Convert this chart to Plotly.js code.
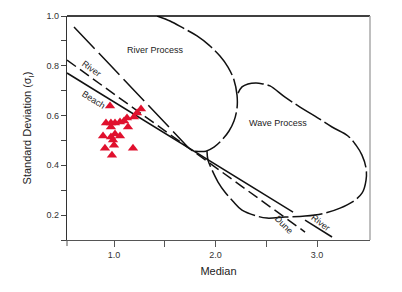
<!DOCTYPE html>
<html><head><meta charset="utf-8">
<script src="https://cdn.plot.ly/plotly-3.0.1.min.js"></script>
<style>html,body{margin:0;padding:0;background:#fff}#chart{width:402px;height:292px}</style>
</head><body><div id="chart"></div>
<script>
// Sample points (median, standard deviation)
const sampleMedian = [0.961,1.266,1.227,1.197,1.128,0.921,0.970,1.010,1.059,1.099,0.970,1.138,0.892,0.970,1.010,1.059,0.990,1.000,0.911,1.187,0.980];
const sampleSD     = [0.638,0.626,0.610,0.594,0.590,0.570,0.570,0.570,0.574,0.578,0.554,0.554,0.518,0.514,0.526,0.518,0.502,0.481,0.469,0.469,0.441];

// Discriminant lines
const lineAX = [0.606, 1.729];
const lineAY = [0.956, 0.473];
const lineBX = [0.537, 2.882];
const lineBY = [0.823, 0.132];
const lineCX = [0.537, 2.764, null, 2.882, 3.148];
const lineCY = [0.771, 0.212, null, 0.180, 0.112];

// River process field boundary
const riverX = [1.424,1.552,1.680,1.818,1.936,2.044,2.123,2.182,2.212,2.212,2.182,2.133,2.064,1.985,1.906,1.798];
const riverY = [1.000,0.980,0.952,0.920,0.883,0.839,0.795,0.743,0.682,0.630,0.578,0.538,0.502,0.473,0.457,0.457];

// Wave process field boundary
const waveX = [2.222,2.261,2.320,2.399,2.468,2.537,2.685,2.833,2.980,3.148,3.305,3.384,3.443,3.483,3.483,3.443,3.345,3.227,3.079,2.882,2.685,2.507,2.409,2.261,2.172,2.094,2.025,1.966,1.926,1.916];
const waveY = [0.690,0.715,0.727,0.731,0.727,0.719,0.674,0.634,0.598,0.554,0.518,0.481,0.441,0.389,0.341,0.288,0.252,0.228,0.208,0.196,0.192,0.188,0.196,0.220,0.256,0.292,0.333,0.381,0.421,0.457];

// Labels
const labelText  = ['River Process','Wave Process','River','Beach','Dune','River'];
const labelX     = [1.404, 2.616, 0.783, 0.803, 2.675, 3.039];
const labelY     = [0.864, 0.572, 0.788, 0.664, 0.160, 0.168];
const labelAngle = [0, 0, 36, 32, 45, 37];

const xTickVals = [1, 2, 3];
const xTickText = ['1.0', '2.0', '3.0'];
const yTickVals = [0.2, 0.4, 0.6, 0.8, 1.0];
const yTickText = ['0.2', '0.4', '0.6', '0.8', '1.0'];

const blk = '#111';
const traces = [
  {x: lineAX, y: lineAY, mode: 'lines', line: {color: blk, width: 1.5, dash: '30px,6px'}, hoverinfo: 'skip'},
  {x: lineBX, y: lineBY, mode: 'lines', line: {color: blk, width: 1.5, dash: '11px,5px'}, hoverinfo: 'skip'},
  {x: lineCX, y: lineCY, mode: 'lines', line: {color: blk, width: 1.5}, connectgaps: false, hoverinfo: 'skip'},
  {x: riverX, y: riverY, mode: 'lines', line: {color: blk, width: 1.5, dash: '30px,4px', shape: 'spline'}, hoverinfo: 'skip'},
  {x: waveX, y: waveY, mode: 'lines', line: {color: blk, width: 1.5, dash: '30px,4px', shape: 'spline'}, hoverinfo: 'skip'},
  {x: sampleMedian, y: sampleSD, mode: 'markers', marker: {symbol: 'triangle-up', size: 9, color: '#e0102d', line: {width: 0}}}
];

const annotations = labelText.map((t, i) => ({
  x: labelX[i], y: labelY[i], xref: 'x', yref: 'y', text: t, showarrow: false,
  textangle: labelAngle[i], font: {family: 'Liberation Sans, Arial, sans-serif', size: 9, color: '#222'}
}));

const layout = {
  width: 402, height: 292,
  margin: {l: 67, r: 32, t: 16, b: 52},
  paper_bgcolor: '#fff', plot_bgcolor: '#fff',
  showlegend: false,
  font: {family: 'Liberation Sans, Arial, sans-serif', size: 9, color: '#333'},
  xaxis: {
    range: [0.537, 3.522], showgrid: false, zeroline: false,
    showline: true, linecolor: '#555', linewidth: 1.2,
    tickvals: xTickVals, ticktext: xTickText, ticks: 'outside', ticklen: 6, tickcolor: '#555', tickwidth: 1,
    minor: {tickvals: [1.5, 2.5], ticks: 'outside', ticklen: 6, tickcolor: '#555', tickwidth: 1},
    tickfont: {size: 9, color: '#333'},
    title: {text: 'Median', font: {size: 11, color: '#222'}, standoff: 8}
  },
  yaxis: {
    range: [0.1, 1.0], showgrid: false, zeroline: false,
    showline: true, linecolor: '#333', linewidth: 1.2,
    tickvals: yTickVals, ticktext: yTickText, ticks: 'outside', ticklen: 5, tickcolor: '#444', tickwidth: 1,
    minor: {tickvals: [0.1, 0.3, 0.5, 0.7, 0.9], ticks: 'outside', ticklen: 5, tickcolor: '#444', tickwidth: 1},
    tickfont: {size: 9, color: '#333'},
    title: {text: 'Standard Deviation (σ<sub>I</sub>)', font: {size: 11, color: '#222'}, standoff: 12}
  },
  shapes: [
    {type: 'line', xref: 'paper', yref: 'paper', x0: 0, x1: 1, y0: 1, y1: 1, line: {color: '#000', width: 1.5}},
    {type: 'line', xref: 'paper', yref: 'paper', x0: 1, x1: 1, y0: 0, y1: 1, line: {color: '#aaa', width: 1.5}},
    {type: 'line', xref: 'paper', yref: 'paper', x0: 0, x1: 0, y0: 0, y1: -0.027, line: {color: '#555', width: 1}}
  ],
  annotations: annotations
};

Plotly.newPlot('chart', traces, layout, {staticPlot: true, displayModeBar: false});
</script>
</body></html>
